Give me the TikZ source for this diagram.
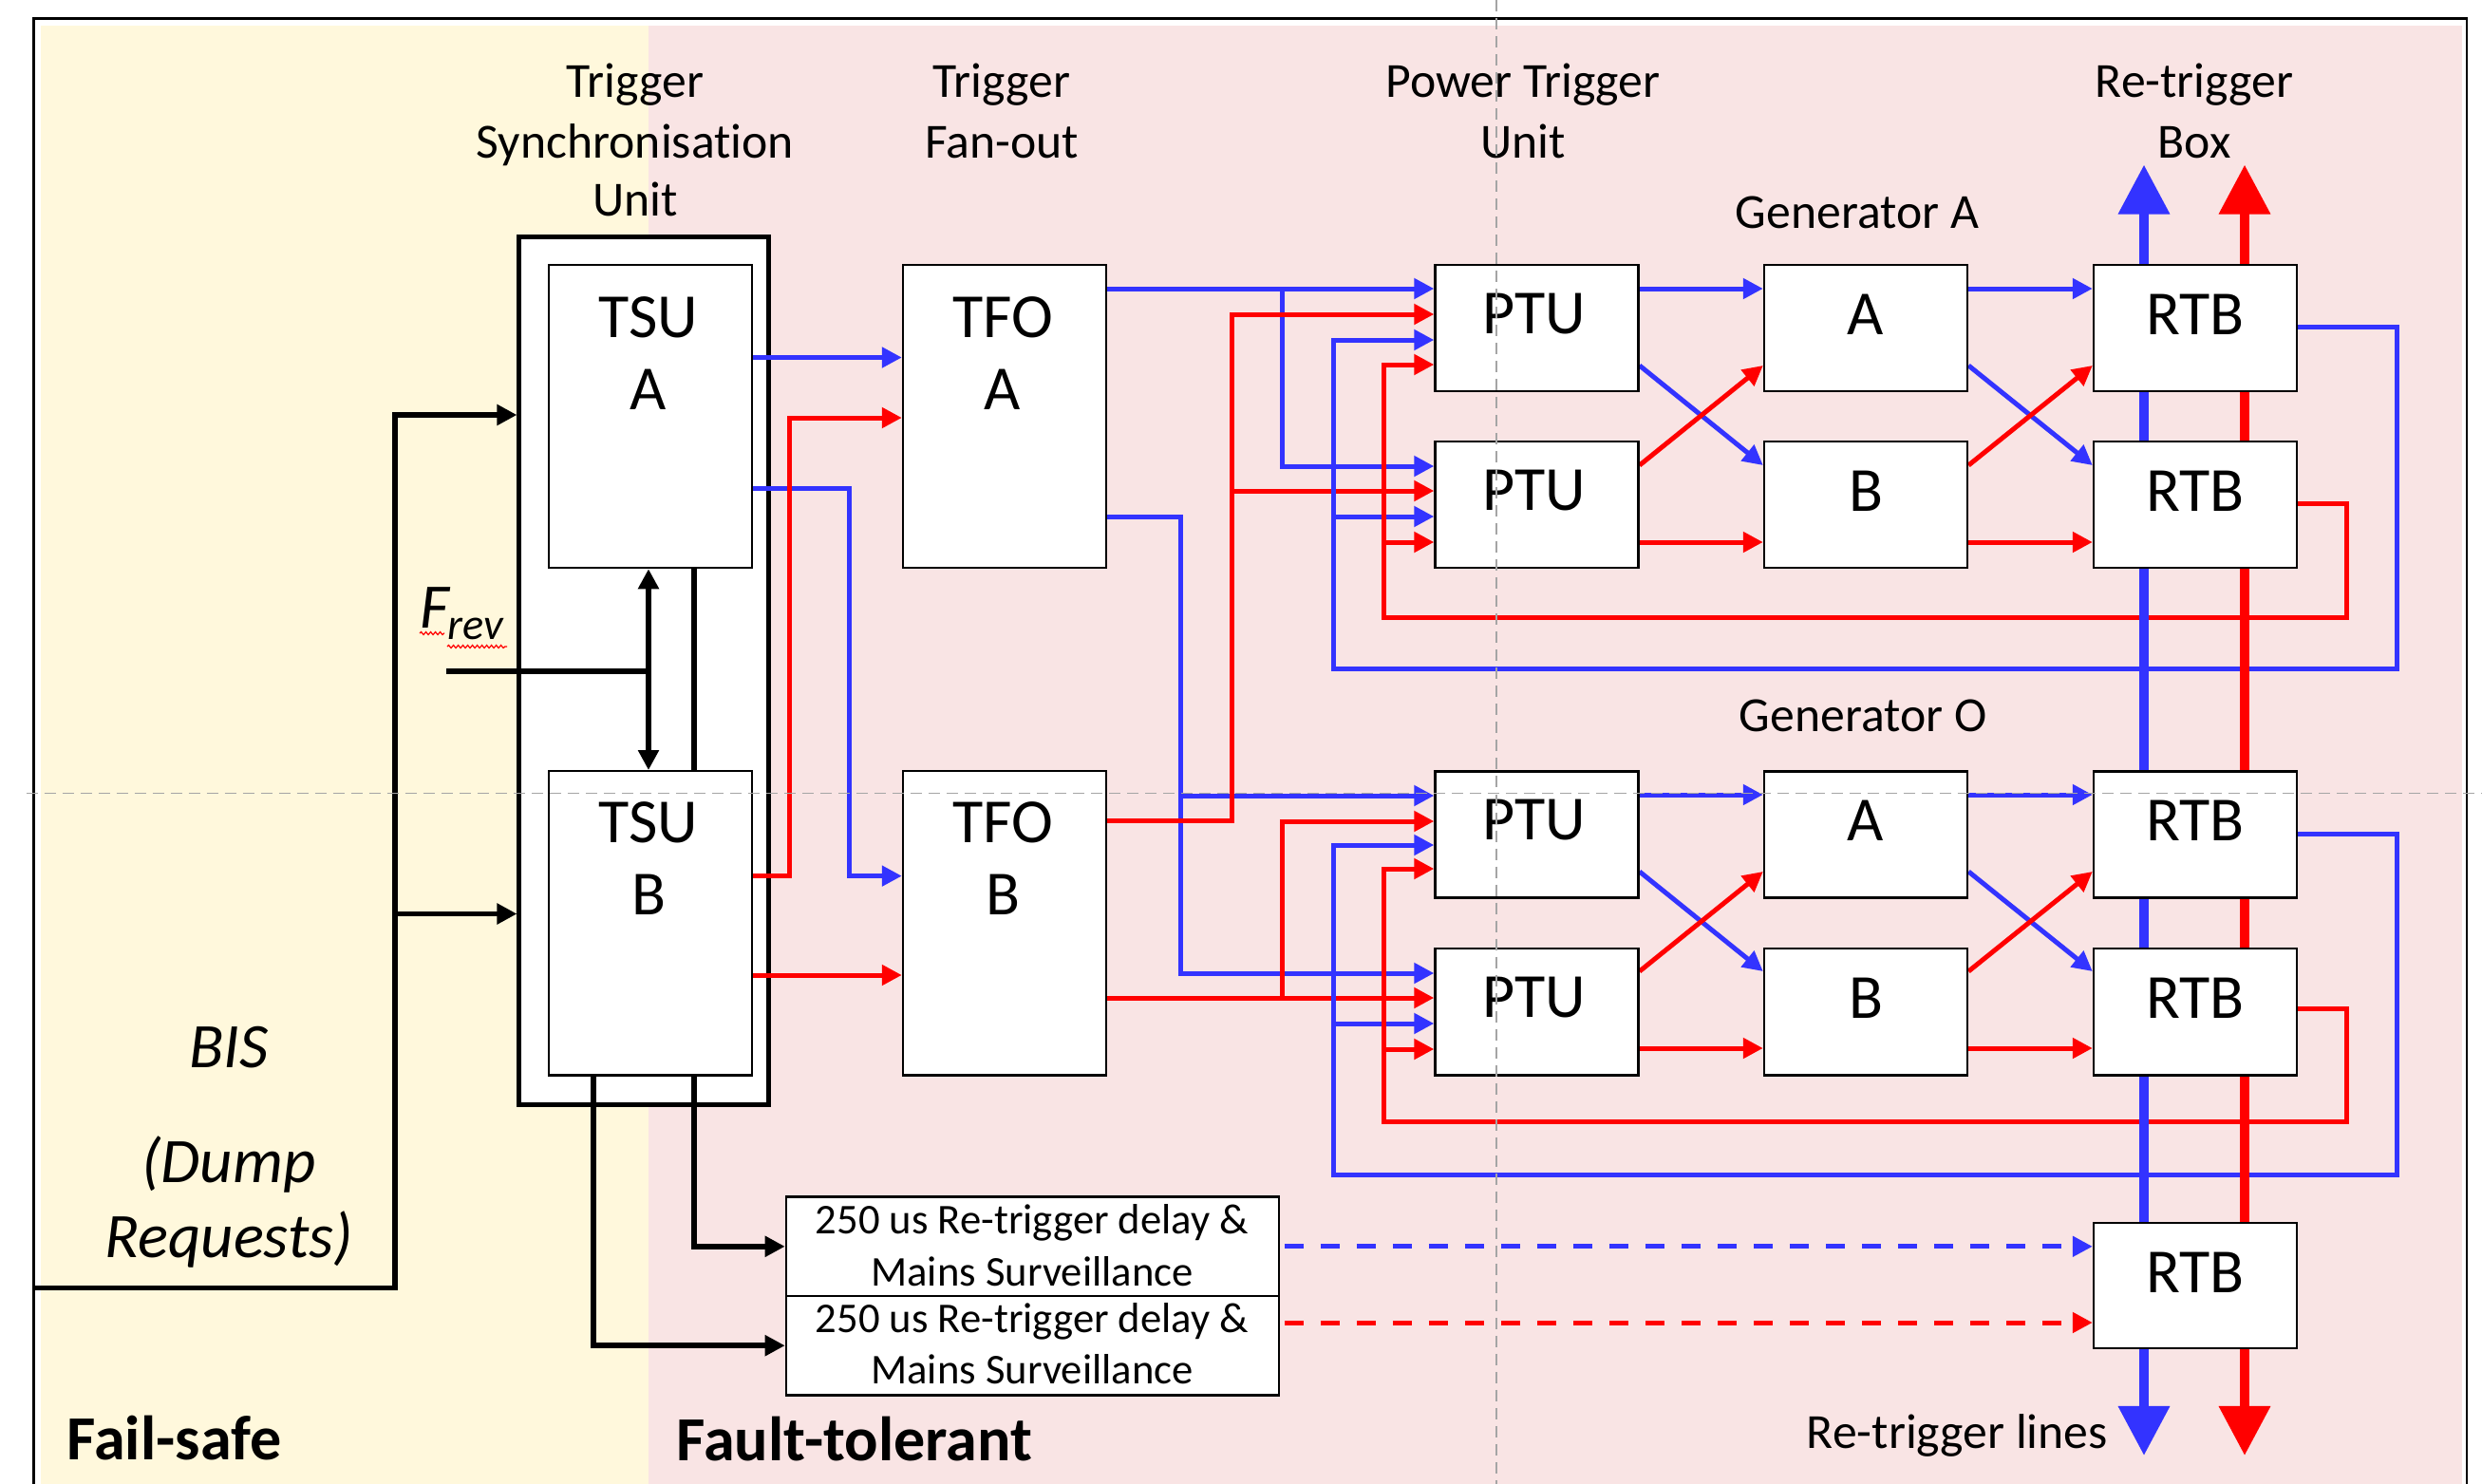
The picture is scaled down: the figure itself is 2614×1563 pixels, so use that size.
\documentclass[tikz,border=0pt]{standalone}
\usepackage{fontspec}
\setmainfont{Carlito}[Ligatures={TeX,NoCommon}]
\usetikzlibrary{arrows.meta,calc,decorations.pathmorphing}
\definecolor{cblue}{RGB}{51,51,255}
\definecolor{cred}{RGB}{255,0,0}
\definecolor{cyel}{RGB}{255,248,220}
\definecolor{cpink}{RGB}{249,228,228}
\definecolor{cgray}{RGB}{165,165,165}
\pgfdeclarelayer{back}
\pgfdeclarelayer{mid}
\pgfdeclarelayer{front}
\pgfsetlayers{back,mid,main,front}
\tikzset{
  box/.style={draw=black, line width=0.66pt, fill=white, inner sep=0pt},
  tall/.style={box, minimum width=2.14cm, minimum height=3.19cm},
  small/.style={box, minimum width=2.14cm, minimum height=1.33cm},
  dly/.style={box, minimum width=5.185cm, minimum height=1.044cm},
  btxt/.style={font=\fontsize{18.8}{21}\selectfont, anchor=base, inner sep=0pt},
  hdr/.style={font=\fontsize{14.7}{17}\selectfont, anchor=base, inner sep=0pt},
  dtxt/.style={font=\fontsize{12.7}{15}\selectfont, anchor=base, inner sep=0pt},
  bis/.style={font=\fontsize{19}{21}\selectfont\itshape, anchor=base, inner sep=0pt},
  zone/.style={font=\fontsize{18.8}{21}\selectfont\bfseries, anchor=base west, inner sep=0pt},
  tip/.style={-{Triangle[length=0.21cm,width=0.21cm]}},
  bl/.style={draw=cblue, line width=1.42pt, tip},
  rd/.style={draw=cred, line width=1.42pt, tip},
  blk/.style={draw=black, line width=1.55pt, tip},
  blkn/.style={draw=black, line width=1.55pt},
  thk/.style={line width=2.85pt, {Triangle[length=0.52cm,width=0.52cm]}-{Triangle[length=0.52cm,width=0.52cm]}},
  gdash/.style={draw=cgray, line width=0.45pt, dash pattern=on 0.12cm off 0.07cm},
  cdash/.style={line width=1.42pt, dash pattern=on 0.2cm off 0.18cm, shorten <=0.05cm},
  squig/.style={draw=cred, line width=0.35pt, decorate, decoration={snake, amplitude=0.015cm, segment length=0.05cm}},
}
\begin{document}
\begin{tikzpicture}[x=0.01cm, y=-0.01cm]
\useasboundingbox (0,0) rectangle (2614,1563);
\clip (0,0) rectangle (2614,1563);

% ---------- background ----------
\begin{pgfonlayer}{back}
\fill[white] (0,0) rectangle (2614,1563);
\fill[cyel] (43,26.5) rectangle (683,1600);
\fill[cpink] (683,26.5) rectangle (2593,1600);
\draw[black, line width=0.65pt] (35.6,1600) |- (2598,19.4) -- (2598,1600);
\node[box, line width=1.42pt, minimum width=2.62cm, minimum height=9.13cm] (tsu) at (678,706.5) {};
\end{pgfonlayer}

% ---------- boxes ----------
\node[tall] (tsuA) at (685,438.5) {};
\node[tall, minimum height=3.2cm] (tsuB) at (685,972.3) {};
\node[tall] (tfoA) at (1058,438.5) {};
\node[tall, minimum height=3.2cm] (tfoB) at (1058,972.3) {};

\node[small] (p1) at (1618.5,345.5) {};
\node[small] (p2) at (1618.5,531.5) {};
\node[small] (p3) at (1618.5,879) {};
\node[small] (p4) at (1618.5,1065.8) {};

\node[small] (ga1) at (1965,345.5) {};
\node[small] (gb1) at (1965,531.5) {};
\node[small] (ga2) at (1965,879) {};
\node[small] (gb2) at (1965,1065.8) {};

\node[small] (r1) at (2312,345.5) {};
\node[small] (r2) at (2312,531.5) {};
\node[small] (r3) at (2312,879) {};
\node[small] (r4) at (2312,1065.8) {};
\node[small, minimum height=1.32cm] (r5) at (2312,1353.7) {};

\node[dly] (d1) at (1087.25,1312.8) {};
\node[dly] (d2) at (1087.25,1417.2) {};

% ---------- box texts ----------
\node[btxt] (tAt1) at (683,355) {TSU};
\node[btxt] (tAt2) at (683,431) {A};
\node[btxt] (tBt1) at (683,887) {TSU};
\node[btxt] (tBt2) at (683,963.6) {B};
\node[btxt] (fAt1) at (1056,355) {TFO};
\node[btxt] (fAt2) at (1056,431) {A};
\node[btxt] (fBt1) at (1056,887) {TFO};
\node[btxt] (fBt2) at (1056,963.6) {B};
\node[btxt] (p1t) at (1616,351) {PTU};
\node[btxt] (p2t) at (1616,537) {PTU};
\node[btxt] (p3t) at (1616,884) {PTU};
\node[btxt] (p4t) at (1616,1071) {PTU};
\node[btxt] (ga1t) at (1965,352) {A};
\node[btxt] (gb1t) at (1965,538) {B};
\node[btxt] (ga2t) at (1965,885) {A};
\node[btxt] (gb2t) at (1965,1072) {B};
\node[btxt] (r1t) at (2312,352) {RTB};
\node[btxt] (r2t) at (2312,538) {RTB};
\node[btxt] (r3t) at (2312,885) {RTB};
\node[btxt] (r4t) at (2312,1072) {RTB};
\node[btxt] (r5t) at (2312,1361) {RTB};
\node[dtxt] (d1t1) at (1087,1299.5) {250 us Re-trigger delay \&};
\node[dtxt] (d1t2) at (1087,1354) {Mains Surveillance};
\node[dtxt] (d2t1) at (1087,1403) {250 us Re-trigger delay \&};
\node[dtxt] (d2t2) at (1087,1457.6) {Mains Surveillance};

% ---------- headers / labels ----------
\node[hdr] (h1) at (669,102) {Trigger};
\node[hdr] (h2) at (669,166) {Synchronisation};
\node[hdr] (h3) at (669,227) {Unit};
\node[hdr] (h4) at (1055,102) {Trigger};
\node[hdr] (h5) at (1055,166) {Fan-out};
\node[hdr] (h6) at (1604,102) {Power Trigger};
\node[hdr] (h7) at (1604,166) {Unit};
\node[hdr] (h8) at (2311,102) {Re-trigger};
\node[hdr] (h9) at (2311,166) {Box};
\node[hdr] (gA) at (1956,240) {Generator A};
\node[hdr] (gO) at (1962,770) {Generator O};
\node[hdr, anchor=base east] (rtl) at (2220.5,1525) {Re-trigger lines};
\node[bis] (bis1) at (241,1124) {BIS};
\node[bis] (bis2) at (241,1245) {(Dump};
\node[bis] (bis3) at (241,1324) {Requests)};
\node[zone] (fs) at (70,1537) {Fail-safe};
\node[zone] (ft) at (712,1538) {Fault-tolerant};
\node[anchor=base west, inner sep=0pt] (frev) at (442,661)
  {\fontsize{19}{21}\selectfont\itshape F\kern-0.02cm\raisebox{-0.12cm}{\fontsize{13.2}{15}\selectfont rev}};
\draw[squig] (442,667) -- (468,667);
\draw[squig] (471,681) -- (534,681);

% ---------- connectors ----------
\begin{pgfonlayer}{mid}
% TSU -> TFO
\draw[bl] (tsuA.east |- 0,376.5) -- (tfoA.west |- 0,376.5);
\draw[bl] (tsuA.east |- 0,514) -| (894,922.6) -- (tfoB.west |- 0,922.6);
\draw[rd] (tsuB.east |- 0,922.6) -| (831,440) -- (tfoA.west |- 0,440);
\draw[rd] (tsuB.east |- 0,1027) -- (tfoB.west |- 0,1027);
% TFO A -> PTU
\draw[bl] (tfoA.east |- 0,304) -- (p1.west |- 0,304);
\draw[bl] (1350,304) |- (p2.west |- 0,491);
\draw[bl] (tfoA.east |- 0,544) -| (1243,1025) -- (p4.west |- 0,1025);
\draw[bl] (1243,838) -- (p3.west |- 0,838);
% TFO B -> PTU
\draw[rd] (tfoB.east |- 0,864) -| (1297,331) -- (p1.west |- 0,331);
\draw[rd] (1297,517) -- (p2.west |- 0,517);
\draw[rd] (tfoB.east |- 0,1051) -- (p4.west |- 0,1051);
\draw[rd] (1350,1051) |- (p3.west |- 0,865);
% feedback loops
\draw[bl] (r1.east |- 0,344) -| (2524,704) -| (1404,358) -- (p1.west |- 0,358);
\draw[bl] (1404,544) -- (p2.west |- 0,544);
\draw[rd] (r2.east |- 0,530.6) -| (2471,650.5) -| (1457,384) -- (p1.west |- 0,384);
\draw[rd] (1457,571) -- (p2.west |- 0,571);
\draw[bl] (r3.east |- 0,878) -| (2524,1237) -| (1404,890) -- (p3.west |- 0,890);
\draw[bl] (1404,1078) -- (p4.west |- 0,1078);
\draw[rd] (r4.east |- 0,1062) -| (2471,1181) -| (1457,915) -- (p3.west |- 0,915);
\draw[rd] (1457,1105) -- (p4.west |- 0,1105);
% PTU -> generators, generators -> RTB (top)
\draw[bl] (p1.east |- 0,304) -- (ga1.west |- 0,304);
\draw[bl] (p1.east |- 0,385) -- (gb1.west |- 0,490);
\draw[rd] (p2.east |- 0,490) -- (ga1.west |- 0,385);
\draw[rd] (p2.east |- 0,571) -- (gb1.west |- 0,571);
\draw[bl] (ga1.east |- 0,304) -- (r1.west |- 0,304);
\draw[bl] (ga1.east |- 0,385) -- (r2.west |- 0,490);
\draw[rd] (gb1.east |- 0,490) -- (r1.west |- 0,385);
\draw[rd] (gb1.east |- 0,571) -- (r2.west |- 0,571);
% bottom
\draw[bl] (p3.east |- 0,837) -- (ga2.west |- 0,837);
\draw[bl] (p3.east |- 0,918) -- (gb2.west |- 0,1023);
\draw[rd] (p4.east |- 0,1023) -- (ga2.west |- 0,918);
\draw[rd] (p4.east |- 0,1104) -- (gb2.west |- 0,1104);
\draw[bl] (ga2.east |- 0,837) -- (r3.west |- 0,837);
\draw[bl] (ga2.east |- 0,918) -- (r4.west |- 0,1023);
\draw[rd] (gb2.east |- 0,1023) -- (r3.west |- 0,918);
\draw[rd] (gb2.east |- 0,1104) -- (r4.west |- 0,1104);
% delay -> RTB
\draw[cdash, draw=cblue, tip] (d1.east) -- (r5.west |- d1.east);
\coordinate (r5red) at (r5.west |- 0,1393);
\draw[cdash, draw=cred, tip] (d2.east |- r5red) -- (r5red);
% black
\coordinate (bisS) at (35.6,1356.5);
\draw[blk] (bisS) -| (416,437) -- (tsu.west |- 0,437);
\draw[blk] (416,962.5) -- (tsu.west |- 0,962.5);
\coordinate (frevL) at (470,707);
\draw[blkn] (frevL) -- (683,707);
\draw[blkn, {Triangle[length=0.21cm,width=0.21cm]}-{Triangle[length=0.21cm,width=0.21cm]}] (tsuA.south -| 683,0) -- (tsuB.north -| 683,0);
\draw[blkn] (tsuA.south -| 731,0) -- (tsuB.north -| 731,0);
\draw[blk] (tsuB.south -| 731,0) |- (d1.west);
\draw[blk] (tsuB.south -| 625,0) |- (d2.west);
% re-trigger lines
\coordinate (bTop) at (2258,173.5);
\coordinate (bBot) at (2258,1533);
\coordinate (rTop) at (2364,173.5);
\coordinate (rBot) at (2364,1533);
\draw[thk, draw=cblue, fill=cblue] (bTop) -- (bBot);
\draw[thk, draw=cred, fill=cred] (rTop) -- (rBot);
\end{pgfonlayer}

% ---------- gray guides ----------
\begin{pgfonlayer}{front}
\draw[gdash] (1576,0) -- (1576,1563);
\draw[gdash] (27.5,835.5) -- (2614,835.5);
\end{pgfonlayer}
\end{tikzpicture}
\end{document}
